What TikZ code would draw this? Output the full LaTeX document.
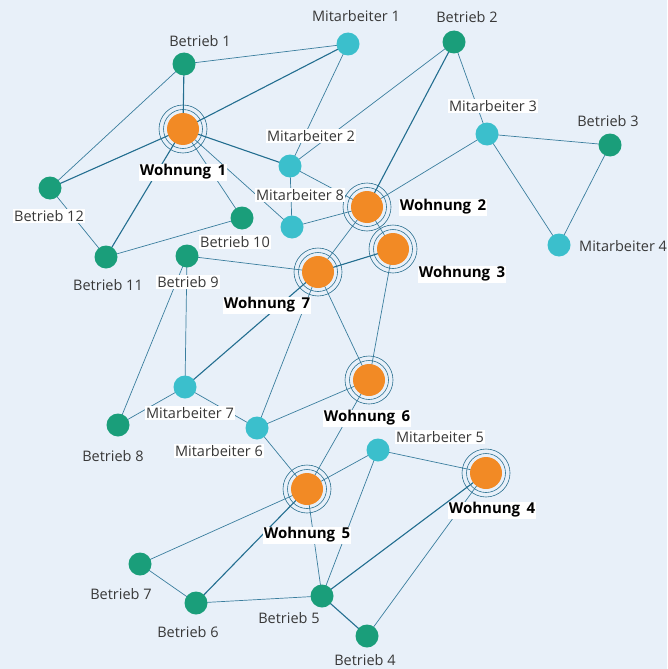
\documentclass[tikz,border=0pt]{standalone}
\usepackage{fontspec}
\setmainfont{Open Sans}
\usetikzlibrary{backgrounds}
\definecolor{bgc}{HTML}{E8F0F9}
\definecolor{firm}{HTML}{1A9E7A}
\definecolor{emp}{HTML}{3BBFCC}
\definecolor{home}{HTML}{F28A25}
\definecolor{edgec}{HTML}{3A7E9E}
\definecolor{edged}{HTML}{236E90}
\definecolor{ringc}{HTML}{2A6F8F}
\definecolor{txt}{HTML}{383838}
\begin{document}
\begin{tikzpicture}[x=1pt,y=-1pt,
  betrieb/.style={circle,fill=firm,minimum size=23pt,inner sep=0pt},
  mitarb/.style={circle,fill=emp,minimum size=23pt,inner sep=0pt},
  wohnung/.style={circle,fill=home,minimum size=32pt,inner sep=0pt,
    append after command={
      \pgfextra{\draw[ringc,line width=0.6pt] (\tikzlastnode.center) circle[radius=19.5pt];
                \draw[ringc,line width=0.6pt] (\tikzlastnode.center) circle[radius=24pt];}}},
  lbl/.style={font=\fontsize{14.5}{16}\selectfont,text=txt,inner sep=1pt},
  lblw/.style={lbl,fill=white},
  wlbl/.style={font=\fontsize{15}{17}\selectfont\bfseries,text=black,fill=white,inner sep=1pt},
  edge/.style={draw=edgec,line width=0.7pt},
  edgeb/.style={draw=edged,line width=1.1pt}]
\useasboundingbox (0,0) rectangle (667,669);
% nodes
\node[betrieb] (b1) at (184,64) {};
\node[mitarb] (m1) at (348,44) {};
\node[betrieb] (b2) at (454,42) {};
\node[mitarb] (m3) at (487,134) {};
\node[betrieb] (b3) at (610,145) {};
\node[mitarb] (m4) at (559,245) {};
\node[wohnung] (w1) at (183,129) {};
\node[mitarb] (m2) at (290,166) {};
\node[mitarb] (m8) at (292,227) {};
\node[wohnung] (w2) at (367,207) {};
\node[wohnung] (w3) at (393,249) {};
\node[wohnung] (w7) at (318,272) {};
\node[betrieb] (b12) at (50,188) {};
\node[betrieb] (b11) at (106,257) {};
\node[betrieb] (b10) at (242,218) {};
\node[betrieb] (b9) at (187,256) {};
\node[mitarb] (m7) at (185,387) {};
\node[betrieb] (b8) at (118,425) {};
\node[mitarb] (m6) at (257,428) {};
\node[wohnung] (w6) at (369,380) {};
\node[mitarb] (m5) at (378,450) {};
\node[wohnung] (w5) at (307,489) {};
\node[wohnung] (w4) at (486,473) {};
\node[betrieb] (b7) at (140,564) {};
\node[betrieb] (b6) at (196,603) {};
\node[betrieb] (b5) at (322,596) {};
\node[betrieb] (b4) at (367,636) {};
% labels
\node[lbl] (lb1) at (200,41) {Betrieb 1};
\node[lbl] (lm1) at (356,16) {Mitarbeiter 1};
\node[lbl] (lb2) at (467,17) {Betrieb 2};
\node[lblw] (lm3) at (493,106) {Mitarbeiter 3};
\node[lbl] (lb3) at (608,121) {Betrieb 3};
\node[lbl,anchor=west] (lm4) at (578,246) {Mitarbeiter 4};
\node[lblw] (lm2) at (311,136) {Mitarbeiter 2};
\node[lblw] (lm8) at (300,195) {Mitarbeiter 8};
\node[lblw] (lb12) at (49,216) {Betrieb 12};
\node[lbl] (lb11) at (108,285) {Betrieb 11};
\node[lblw] (lb10) at (235,242) {Betrieb 10};
\node[lblw] (lb9) at (188,282) {Betrieb 9};
\node[lblw] (lm7) at (190,413) {Mitarbeiter 7};
\node[lbl] (lb8) at (113,456) {Betrieb 8};
\node[lblw] (lm6) at (219,451) {Mitarbeiter 6};
\node[lblw] (lm5) at (440,437) {Mitarbeiter 5};
\node[lbl] (lb7) at (121,594) {Betrieb 7};
\node[lbl] (lb6) at (188,632) {Betrieb 6};
\node[lbl] (lb5) at (289,618) {Betrieb 5};
\node[lbl] (lb4) at (365,660) {Betrieb 4};
\node[wlbl] (lw1) at (183,172) {Wohnung\, 1};
\node[wlbl] (lw2) at (443,207) {Wohnung\, 2};
\node[wlbl] (lw3) at (462,274) {Wohnung\, 3};
\node[wlbl] (lw7) at (267,305) {Wohnung\, 7};
\node[wlbl] (lw6) at (367,418) {Wohnung\, 6};
\node[wlbl] (lw4) at (492,510) {Wohnung\, 4};
\node[wlbl] (lw5) at (307,535) {Wohnung\, 5};
\begin{pgfonlayer}{background}
\fill[bgc] (0,0) rectangle (667,669);
\foreach \a/\b in {b1/m1,b1/b12,m1/m2,m2/b2,m2/m8,m2/w2,m8/w2,b2/m3,m3/w2,m3/b3,m3/m4,b3/m4,
  w1/b10,w1/m8,b12/b11,b11/b10,w2/w3,w2/w7,w3/w6,b9/w7,w7/m6,w7/w6,b9/b8,b9/m7,m7/b8,m7/m6,
  m6/w6,m6/w5,w6/w5,w5/m5,w5/b7,w5/b5,m5/w4,m5/b5,w4/b4,b7/b6,b6/b5}
  \path[edge] (\a.center) -- (\b.center);
\foreach \a/\b in {b1/w1,w1/m1,w1/b12,w1/b11,w1/m2,b2/w2,w3/w7,w7/m7,w4/b5,w5/b6,b5/b4}
  \path[edgeb] (\a.center) -- (\b.center);
\end{pgfonlayer}
\end{tikzpicture}
\end{document}
